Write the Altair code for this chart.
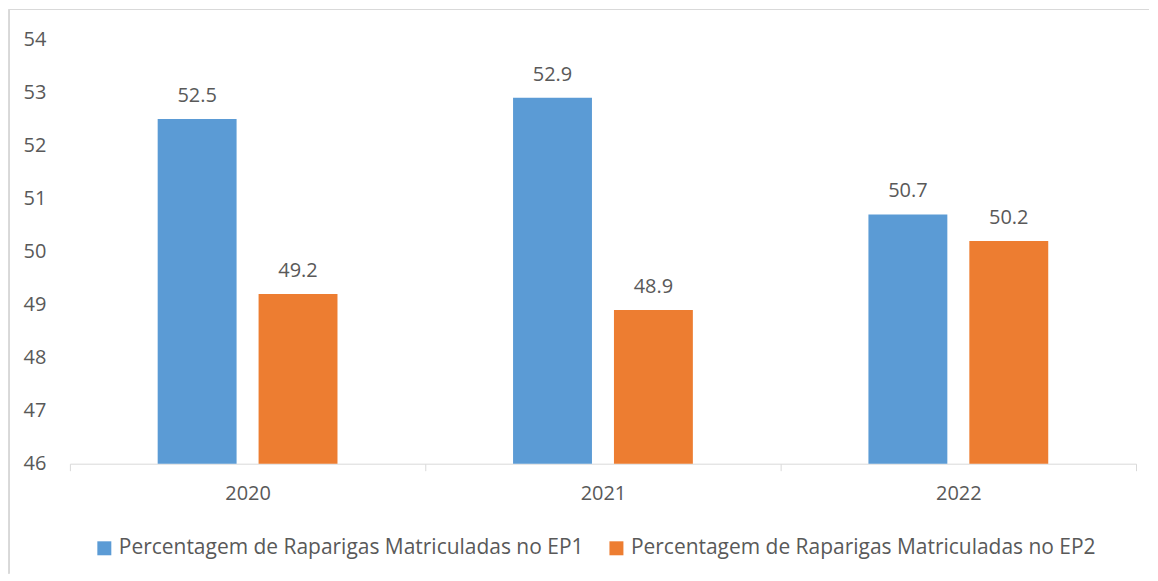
import altair as alt
import pandas as pd

years = ["2020", "2021", "2022"]
series = ["Percentagem de Raparigas Matriculadas no EP1",
          "Percentagem de Raparigas Matriculadas no EP2"]
ep1 = [52.5, 52.9, 50.7]
ep2 = [49.2, 48.9, 50.2]
y_ticks = [46, 47, 48, 49, 50, 51, 52, 53, 54]
colors = ["#5B9BD5", "#ED7D31"]

rows = []
for i, yr in enumerate(years):
    rows.append({"year": yr, "series": series[0], "value": ep1[i]})
    rows.append({"year": yr, "series": series[1], "value": ep2[i]})
df = pd.DataFrame(rows)

FONT = "Open Sans"
TXT = "#595959"
FS = 20

x_enc = alt.X("year:N", sort=years, title=None,
              scale=alt.Scale(paddingInner=0, paddingOuter=0),
              axis=alt.Axis(labelAngle=0, tickBand="extent", domainColor="#D9D9D9",
                            tickColor="#D9D9D9", tickSize=7, labelPadding=13,
                            labelFontSize=FS, labelColor=TXT, labelFont=FONT, grid=False))
xoff = alt.XOffset("series:N", sort=series,
                   scale=alt.Scale(paddingInner=0.218, paddingOuter=0.87))
y_enc = alt.Y("value:Q", title=None,
              scale=alt.Scale(domain=[46, 54], nice=False, zero=False, clamp=True),
              axis=alt.Axis(values=y_ticks, grid=False, domain=False, ticks=False,
                            labelPadding=24, labelFontSize=FS, labelColor=TXT,
                            labelFont=FONT))

base = alt.Chart(df)

bars = base.mark_bar().encode(
    x=x_enc, xOffset=xoff, y=y_enc,
    color=alt.Color("series:N", sort=series, title=None,
                    scale=alt.Scale(domain=series, range=colors),
                    legend=alt.Legend(orient="none", legendX=24, legendY=499,
                                      direction="horizontal", symbolType="square",
                                      symbolSize=196, symbolStrokeWidth=0,
                                      labelFontSize=21, labelFont=FONT,
                                      labelColor=TXT, labelOffset=4,
                                      columnPadding=22, labelLimit=0)),
)

labels = base.mark_text(font=FONT, fontSize=FS, color=TXT, baseline="middle",
                        dy=-23).encode(
    x=alt.X("year:N", sort=years), xOffset=alt.XOffset("series:N", sort=series),
    y="value:Q", text=alt.Text("value:Q", format=".1f"),
)

border_top = base.mark_rule(color="#D9D9D9", strokeWidth=1).encode(
    x=alt.value(-61), x2=alt.value(1081), y=alt.value(-30))
border_left = base.mark_rule(color="#D9D9D9", strokeWidth=1).encode(
    x=alt.value(-61), y=alt.value(-30), y2=alt.value(535))

chart = alt.layer(bars, labels, border_top, border_left).properties(
    width=1068, height=425, padding=0, background="white"
).configure_view(stroke=None)

chart.save("out.html", embed_options={"renderer": "svg", "actions": False})
